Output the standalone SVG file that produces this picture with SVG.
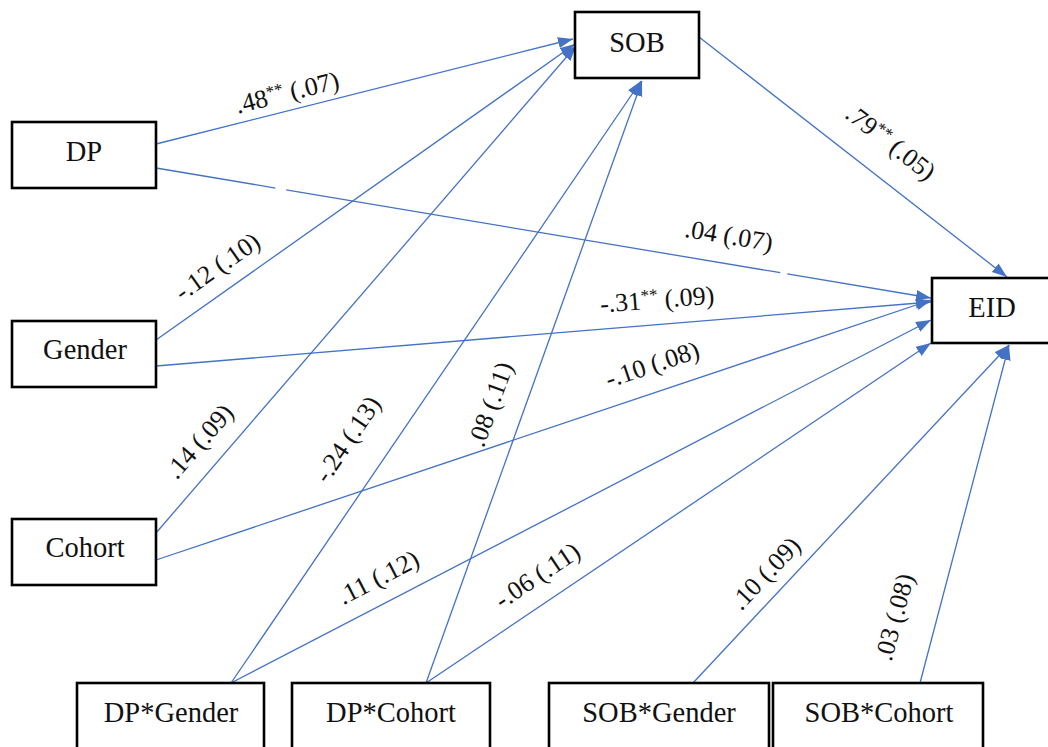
<svg xmlns="http://www.w3.org/2000/svg" width="1048" height="747" viewBox="0 0 1048 747">
  <defs>
    <marker id="arrow" markerUnits="userSpaceOnUse" markerWidth="16" markerHeight="12" refX="15" refY="5.5" orient="auto">
      <path d="M0,0 L15,5.5 L0,11 z" fill="#4472C4"/>
    </marker>
  </defs>

  <rect width="1048" height="747" fill="#ffffff"/>

  <!-- paths between variables: shared stroke and arrowhead set on the group -->
  <g id="connectors" fill="none" stroke="#4472C4" stroke-width="1.3" marker-end="url(#arrow)">
    <!-- into SOB -->
    <line x1="156" y1="144" x2="573" y2="39"/>
    <line x1="156" y1="340" x2="575" y2="44"/>
    <line x1="156" y1="533" x2="576" y2="46"/>
    <line x1="231" y1="683" x2="641" y2="81"/>
    <line x1="426" y1="683" x2="642" y2="81"/>
    <!-- into EID -->
    <line x1="156" y1="168" x2="931" y2="298" stroke-dasharray="121 11 501 7 2000"/>
    <line x1="156" y1="366" x2="931" y2="302"/>
    <line x1="156" y1="560" x2="931" y2="300"/>
    <line x1="231" y1="683" x2="931" y2="320"/>
    <line x1="426" y1="683" x2="931" y2="343"/>
    <line x1="699" y1="37" x2="1007" y2="277"/>
    <line x1="693" y1="683" x2="1009" y2="345"/>
    <line x1="920" y1="683" x2="1009" y2="345"/>
  </g>

  <!-- path coefficients -->
  <g id="labels" font-family="Liberation Serif" font-size="26" fill="#111111" text-anchor="middle">
    <text transform="translate(287,92) rotate(-14)" dy=".35em">.48<tspan font-size="17" dy="-8">**</tspan><tspan dy="8"> (.07)</tspan></text>
    <text transform="translate(217,266) rotate(-35)" dy=".35em">-.12 (.10)</text>
    <text transform="translate(199,441) rotate(-49)" dy=".35em">.14 (.09)</text>
    <text transform="translate(347,439) rotate(-56)" dy=".35em">-.24 (.13)</text>
    <text transform="translate(490,404) rotate(-70)" dy=".35em">.08 (.11)</text>
    <text transform="translate(729,235) rotate(9.5)" dy=".35em">.04 (.07)</text>
    <text transform="translate(657,299) rotate(-4.6)" dy=".35em">-.31<tspan font-size="17" dy="-8">**</tspan><tspan dy="8"> (.09)</tspan></text>
    <text transform="translate(652,364) rotate(-18.5)" dy=".35em">-.10 (.08)</text>
    <text transform="translate(378,577) rotate(-27.4)" dy=".35em">.11 (.12)</text>
    <text transform="translate(537,575) rotate(-33.9)" dy=".35em">-.06 (.11)</text>
    <text transform="translate(765,573) rotate(-46.7)" dy=".35em">.10 (.09)</text>
    <text transform="translate(894,617) rotate(-75)" dy=".35em">.03 (.08)</text>
    <text transform="translate(891,142) rotate(37.9)" dy=".35em">.79<tspan font-size="17" dy="-8">**</tspan><tspan dy="8"> (.05)</tspan></text>
  </g>

  <!-- variables: shared box and caption looks set on the group -->
  <g id="nodes" font-family="Liberation Serif" font-size="28.5" text-anchor="middle">
    <g id="node-dp">
      <rect x="12" y="122" width="144" height="66" fill="#ffffff" stroke="#000000" stroke-width="2.6"/>
      <text x="84" y="161" fill="#111111">DP</text>
    </g>
    <g id="node-gender">
      <rect x="12" y="321" width="144" height="66" fill="#ffffff" stroke="#000000" stroke-width="2.6"/>
      <text x="85" y="359" fill="#111111">Gender</text>
    </g>
    <g id="node-cohort">
      <rect x="12" y="519" width="144" height="66" fill="#ffffff" stroke="#000000" stroke-width="2.6"/>
      <text x="85" y="557" fill="#111111">Cohort</text>
    </g>
    <g id="node-sob">
      <rect x="575" y="12" width="124" height="66" fill="#ffffff" stroke="#000000" stroke-width="2.6"/>
      <text x="637" y="52" fill="#111111">SOB</text>
    </g>
    <g id="node-eid">
      <rect x="932" y="278" width="130" height="65" fill="#ffffff" stroke="#000000" stroke-width="2.6"/>
      <text x="992" y="317" fill="#111111">EID</text>
    </g>
    <g id="node-dp-gender">
      <rect x="77" y="683" width="187" height="80" fill="#ffffff" stroke="#000000" stroke-width="2.6"/>
      <text x="171" y="722" fill="#111111">DP*Gender</text>
    </g>
    <g id="node-dp-cohort">
      <rect x="292" y="683" width="198" height="80" fill="#ffffff" stroke="#000000" stroke-width="2.6"/>
      <text x="391" y="722" fill="#111111">DP*Cohort</text>
    </g>
    <g id="node-sob-gender">
      <rect x="549" y="683" width="220" height="80" fill="#ffffff" stroke="#000000" stroke-width="2.6"/>
      <text x="659" y="722" fill="#111111">SOB*Gender</text>
    </g>
    <g id="node-sob-cohort">
      <rect x="773" y="683" width="210" height="80" fill="#ffffff" stroke="#000000" stroke-width="2.6"/>
      <text x="879" y="722" fill="#111111">SOB*Cohort</text>
    </g>
  </g>
</svg>
